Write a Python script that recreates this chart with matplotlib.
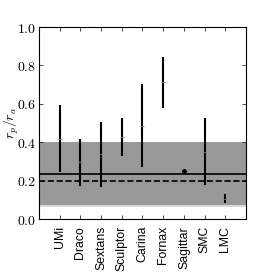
import numpy as np
import matplotlib
matplotlib.use("Agg")
import matplotlib.pyplot as plt
from matplotlib.ticker import FuncFormatter

# galaxies and the rp/ra ranges
names = ["UMi", "Draco", "Sextans", "Sculptor", "Carina", "Fornax", "Sagittar", "SMC", "LMC"]
mid = [0.415, 0.295, 0.339, 0.425, 0.486, 0.712, 0.250, 0.347, 0.105]
lo = [0.243, 0.172, 0.168, 0.326, 0.271, 0.576, 0.243, 0.175, 0.082]
hi = [0.592, 0.415, 0.507, 0.524, 0.703, 0.845, 0.257, 0.524, 0.130]

# horizontal reference values
band_outer = (0.061, 0.40)
band_inner = (0.073, 0.40)
solid_level = 0.233
dashed_level = 0.196

plt.rcParams['mathtext.fontset'] = 'cm'
plt.rcParams['font.family'] = ['Liberation Sans', 'DejaVu Sans']

fig = plt.figure(figsize=(2.74, 2.74), dpi=100)
ax = fig.add_axes([0.142, 0.2007, 0.756, 0.7007])

x = np.arange(1, len(names) + 1)
mid = np.array(mid)
lo = np.array(lo)
hi = np.array(hi)

ax.axhspan(band_outer[0], band_outer[1], color='0.86', lw=0, zorder=0)
ax.axhspan(band_inner[0], band_inner[1], color='0.6', lw=0, zorder=1)
ax.axhline(solid_level, color='k', lw=1.2, zorder=2)
ax.axhline(dashed_level, color='k', lw=1.2, ls='--', zorder=2)

ax.vlines(x, lo, hi, color='k', lw=1.5, zorder=3)
ax.plot(x[:6], mid[:6], ls='none', marker='_', ms=3, mew=0.6, color='0.5', zorder=4)
ax.plot(x[7:], mid[7:], ls='none', marker='_', ms=3, mew=0.6, color='0.5', zorder=4)
ax.plot(x[6], mid[6], ls='none', marker='o', ms=2.5, color='k', zorder=4)

ax.set_xlim(0, 10)
ax.set_ylim(0, 1)
ax.set_xticks(x)
ax.set_xticklabels(names, rotation=90, fontsize=8.8)
ax.set_yticks([0.0, 0.2, 0.4, 0.6, 0.8, 1.0])
ax.yaxis.set_major_formatter(FuncFormatter(lambda v, p: r'$%.1f$' % v))
ax.tick_params(axis='y', labelsize=10, pad=2)
ax.tick_params(axis='x', pad=5)
ax.tick_params(direction='in', top=True, right=True, length=3, width=0.5)
ax.set_ylabel(r'$r_p/r_a$', fontsize=10)
ax.yaxis.set_label_coords(-0.085, 0.5)
for s in ax.spines.values():
    s.set_linewidth(0.8)

fig.savefig("out.png", dpi=100)
